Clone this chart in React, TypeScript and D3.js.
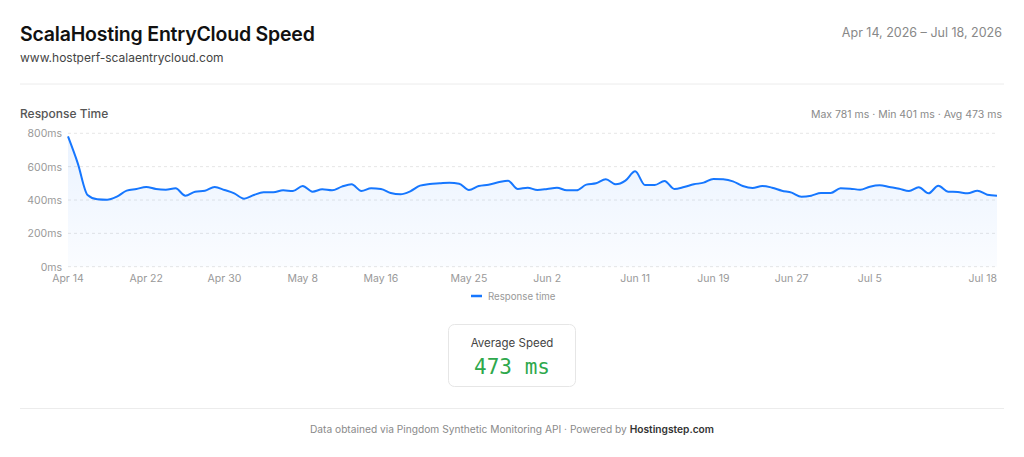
import React, { useEffect, useRef } from "react";
import * as d3 from "d3";

// daily response time (ms), Apr 14 2026 -> Jul 18 2026
const startDate = "2026-04-14";
const responseMs = [
  781, 620, 430, 404, 401, 420, 456, 466, 478, 466, 462, 470, 426, 450, 456, 478,
  460, 440, 408, 430, 446, 446, 458, 454, 484, 450, 464, 458, 480, 494, 454, 470,
  466, 442, 434, 452, 486, 496, 500, 504, 498, 460, 484, 492, 506, 516, 466, 474,
  460, 466, 474, 458, 458, 492, 500, 524, 494, 516, 572, 490, 490, 514, 466, 478,
  494, 504, 526, 524, 512, 484, 472, 484, 474, 456, 444, 420, 426, 442, 442, 470,
  468, 462, 480, 488, 478, 468, 454, 476, 440, 486, 450, 448, 440, 456, 432, 426,
];
const xTickLabels = [
  "2026-04-14", "2026-04-22", "2026-04-30", "2026-05-08", "2026-05-16", "2026-05-25",
  "2026-06-02", "2026-06-11", "2026-06-19", "2026-06-27", "2026-07-05", "2026-07-18",
];
const yTicks = [0, 200, 400, 600, 800];

const parse = d3.timeParse("%Y-%m-%d");
const fmtTick = d3.timeFormat("%b %-d");
const fmtLong = d3.timeFormat("%b %-d, %Y");

const data = responseMs.map((v, i) => ({
  date: d3.timeDay.offset(parse(startDate) as Date, i),
  value: v,
}));

const W = 1024;
const H = 457;
const FONT = "Inter, 'Noto Sans', sans-serif";

export default function App() {
  const ref = useRef<SVGSVGElement | null>(null);

  useEffect(() => {
    if (!ref.current) return;
    const svg = d3.select(ref.current);
    svg.selectAll("*").remove();

    const margin = { top: 133.3, right: 27, bottom: 190.3, left: 68 };
    const x = d3
      .scaleTime()
      .domain(d3.extent(data, (d) => d.date) as [Date, Date])
      .range([margin.left, W - margin.right]);
    const y = d3
      .scaleLinear()
      .domain([0, 800])
      .range([H - margin.bottom, margin.top]);

    const maxV = d3.max(responseMs) as number;
    const minV = d3.min(responseMs) as number;
    const avgV = Math.round(d3.mean(responseMs) as number);

    // header
    svg.append("text").attr("x", 20).attr("y", 41)
      .attr("font-size", 19.5).attr("font-weight", 600).attr("fill", "#111")
      .attr("letter-spacing", -0.2)
      .text("ScalaHosting EntryCloud Speed");
    svg.append("text").attr("x", 20).attr("y", 62)
      .attr("font-size", 12).attr("fill", "#444")
      .text("www.hostperf-scalaentrycloud.com");
    svg.append("text").attr("x", 1002).attr("y", 37).attr("text-anchor", "end")
      .attr("font-size", 12.5).attr("fill", "#888")
      .text(`${fmtLong(data[0].date)} – ${fmtLong(data[data.length - 1].date)}`);
    svg.append("line").attr("x1", 20).attr("x2", 1004).attr("y1", 84).attr("y2", 84)
      .attr("stroke", "#ececec");

    svg.append("text").attr("x", 20).attr("y", 118)
      .attr("font-size", 12).attr("font-weight", 500).attr("fill", "#555")
      .text("Response Time");
    svg.append("text").attr("x", 1002).attr("y", 118).attr("text-anchor", "end")
      .attr("font-size", 10.5).attr("fill", "#8a8a8a")
      .text(`Max ${maxV} ms · Min ${minV} ms · Avg ${avgV} ms`);

    // grid + y labels
    const grid = svg.append("g");
    grid.selectAll("line").data(yTicks).join("line")
      .attr("x1", margin.left).attr("x2", W - margin.right)
      .attr("y1", (d) => y(d)).attr("y2", (d) => y(d))
      .attr("stroke", "#e6e6e6").attr("stroke-dasharray", "3,3");
    grid.selectAll("text").data(yTicks).join("text")
      .attr("x", 62).attr("y", (d) => y(d) + 4).attr("text-anchor", "end")
      .attr("font-size", 10.5).attr("fill", "#999")
      .text((d) => `${d}ms`);

    // x labels
    const xDates = xTickLabels.map((s) => parse(s) as Date);
    svg.append("g").selectAll("text").data(xDates).join("text")
      .attr("x", (d) => x(d))
      .attr("y", 282)
      .attr("text-anchor", (d, i) => (i === xDates.length - 1 ? "end" : "middle"))
      .attr("font-size", 10.5).attr("fill", "#999")
      .text((d) => fmtTick(d));

    // area + line
    const defs = svg.append("defs");
    const grad = defs.append("linearGradient").attr("id", "fillGrad")
      .attr("x1", 0).attr("x2", 0).attr("y1", 0).attr("y2", 1);
    grad.append("stop").attr("offset", "0%").attr("stop-color", "#1677ff").attr("stop-opacity", 0.09);
    grad.append("stop").attr("offset", "100%").attr("stop-color", "#1677ff").attr("stop-opacity", 0.02);

    const area = d3.area<{ date: Date; value: number }>()
      .x((d) => x(d.date)).y0(y(0)).y1((d) => y(d.value))
      .curve(d3.curveMonotoneX);
    const line = d3.line<{ date: Date; value: number }>()
      .x((d) => x(d.date)).y((d) => y(d.value))
      .curve(d3.curveMonotoneX);

    svg.append("path").datum(data).attr("d", area).attr("fill", "url(#fillGrad)");
    svg.append("path").datum(data).attr("d", line)
      .attr("fill", "none").attr("stroke", "#1677ff").attr("stroke-width", 2)
      .attr("stroke-linejoin", "round");

    // legend
    svg.append("line").attr("x1", 471).attr("x2", 482).attr("y1", 296).attr("y2", 296)
      .attr("stroke", "#1677ff").attr("stroke-width", 2.5);
    svg.append("text").attr("x", 488).attr("y", 299.5)
      .attr("font-size", 9.7).attr("fill", "#999").text("Response time");

    // average box
    svg.append("rect").attr("x", 448.5).attr("y", 324.5).attr("width", 127).attr("height", 62)
      .attr("rx", 6).attr("fill", "#fff").attr("stroke", "#e6e6e6");
    svg.append("text").attr("x", 512).attr("y", 347).attr("text-anchor", "middle")
      .attr("font-size", 11.5).attr("fill", "#444").text("Average Speed");
    svg.append("text").attr("x", 512).attr("y", 374).attr("text-anchor", "middle")
      .attr("font-family", "'DejaVu Sans Mono', 'Liberation Mono', monospace")
      .attr("font-size", 21).attr("fill", "#2ea84c").text(`${avgV} ms`);

    // footer
    svg.append("line").attr("x1", 20).attr("x2", 1004).attr("y1", 408.5).attr("y2", 408.5)
      .attr("stroke", "#ececec");
    const foot = svg.append("text").attr("x", 512).attr("y", 433).attr("text-anchor", "middle")
      .attr("font-size", 10.2).attr("fill", "#8a8a8a");
    foot.append("tspan").text("Data obtained via Pingdom Synthetic Monitoring API · Powered by ");
    foot.append("tspan").attr("font-weight", 600).attr("fill", "#333").text("Hostingstep.com");
  }, []);

  return (
    <div style={{ position: "fixed", left: 0, top: 0, width: W, height: H, background: "#fff" }}>
      <svg ref={ref} width={W} height={H} style={{ display: "block", fontFamily: FONT }} />
    </div>
  );
}
